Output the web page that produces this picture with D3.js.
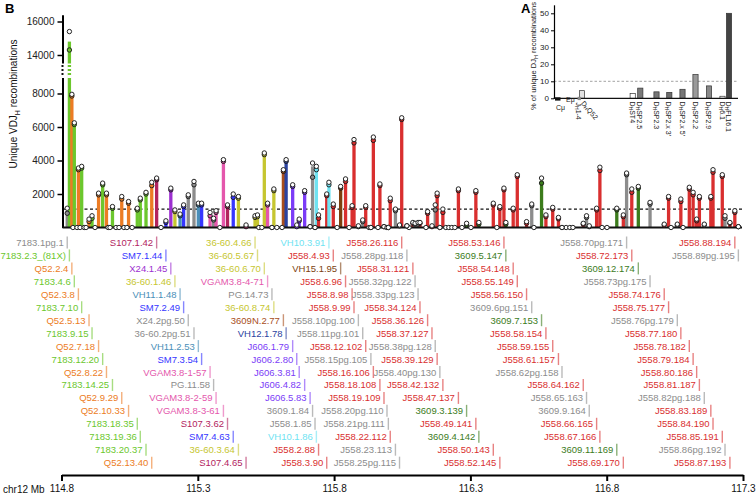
<!DOCTYPE html>
<html><head><meta charset="utf-8">
<script src="https://cdn.jsdelivr.net/npm/d3@7"></script>
<style>body{margin:0;background:#fff;} svg{display:block;font-family:"Liberation Sans",Arial,sans-serif;}</style>
</head><body><svg id="c" width="756" height="494"></svg>
<script>
// ---------- DATA ----------
const geneNames = [
'7183.1pg.1','7183.2.3_(81X)','Q52.2.4','7183.4.6','Q52.3.8','7183.7.10','Q52.5.13','7183.9.15','Q52.7.18','7183.12.20','Q52.8.22','7183.14.25','Q52.9.29','Q52.10.33','7183.18.35','7183.19.36','7183.20.37','Q52.13.40',
'S107.1.42','SM7.1.44','X24.1.45','36-60.1.46','VH11.1.48','SM7.2.49','X24.2pg.50','36-60.2pg.51','VH11.2.53','SM7.3.54','VGAM3.8-1-57','PG.11.58','VGAM3.8-2-59','VGAM3.8-3-61','S107.3.62','SM7.4.63','36-60.3.64','S107.4.65',
'36-60.4.66','36-60.5.67','36-60.6.70','VGAM3.8-4-71','PG.14.73','36-60.8.74','3609N.2.77','VH12.1.78','J606.1.79','J606.2.80','J606.3.81','J606.4.82','J606.5.83','3609.1.84','J558.1.85','VH10.1.86','J558.2.88','J558.3.90',
'VH10.3.91','J558.4.93','VH15.1.95','J558.6.96','J558.8.98','J558.9.99','J558.10pg.100','J558.11pg.101','J558.12.102','J558.15pg.105','J558.16.106','J558.18.108','J558.19.109','J558.20pg.110','J558.21pg.111','J558.22.112','J558.23.113','J558.25pg.115',
'J558.26.116','J558.28pg.118','J558.31.121','J558.32pg.122','J558.33pg.123','J558.34.124','J558.36.126','J558.37.127','J558.38pg.128','J558.39.129','J558.40pg.130','J558.42.132','J558.47.137','3609.3.139','J558.49.141','3609.4.142','J558.50.143','J558.52.145',
'J558.53.146','3609.5.147','J558.54.148','J558.55.149','J558.56.150','3609.6pg.151','3609.7.153','J558.58.154','J558.59.155','J558.61.157','J558.62pg.158','J558.64.162','J558.65.163','3609.9.164','J558.66.165','J558.67.166','3609.11.169','J558.69.170',
'J558.70pg.171','J558.72.173','3609.12.174','J558.73pg.175','J558.74.176','J558.75.177','J558.76pg.179','J558.77.180','J558.78.182','J558.79.184','J558.80.186','J558.81.187','J558.82pg.188','J558.83.189','J558.84.190','J558.85.191','J558.86pg.192','J558.87.193',
'J558.88.194','J558.89pg.195'];
const geneFamilies = [
'g','7183','Q52','7183','Q52','7183','Q52','7183','Q52','7183','Q52','7183','Q52','Q52','7183','7183','7183','Q52',
'S107','SM7','X24','3660','VH11','SM7','g','g','VH11','SM7','VGAM','g','VGAM','VGAM','S107','SM7','3660','S107',
'3660','3660','3660','VGAM','g','3660','3609N','VH12','J606','J606','J606','J606','J606','g','g','VH10','J558','J558',
'VH10','J558','VH15','J558','J558','J558','g','g','J558','g','J558','J558','J558','g','g','J558','g','g',
'J558','g','J558','g','g','J558','J558','J558','g','J558','g','J558','J558','3609','J558','3609','J558','J558',
'J558','3609','J558','J558','J558','g','3609','J558','J558','J558','g','J558','g','g','J558','J558','3609','J558',
'g','J558','3609','g','J558','J558','g','J558','J558','J558','J558','J558','g','J558','J558','J558','g','J558',
'J558','g'];
const genePositionsMb = [
114.821,114.829,114.838,114.847,114.862,114.874,114.901,114.912,114.936,114.951,114.965,114.987,115.021,115.046,115.078,115.089,115.110,115.131,
115.149,115.183,115.201,115.216,115.235,115.248,115.265,115.286,115.302,115.314,115.345,115.358,115.367,115.394,115.409,115.430,115.449,115.477,
115.510,115.519,115.544,115.556,115.572,115.579,115.614,115.624,115.648,115.663,115.672,115.692,115.712,115.721,115.730,115.735,115.743,115.773,
115.781,115.797,115.824,115.842,115.866,115.873,115.889,115.905,115.916,115.935,115.944,115.968,115.983,115.994,115.999,116.006,116.025,116.040,
116.048,116.067,116.089,116.097,116.108,116.115,116.143,116.159,116.171,116.178,116.188,116.199,116.256,116.286,116.320,116.331,116.384,116.408,
116.423,116.430,116.457,116.472,116.506,116.525,116.561,116.577,116.602,116.623,116.636,116.714,116.726,116.736,116.763,116.775,116.837,116.861,
116.873,116.892,116.916,116.959,117.011,117.027,117.059,117.072,117.103,117.117,117.130,117.140,117.158,117.182,117.190,117.224,117.234,117.252,
117.270,117.283];
const geneMeans = [
1000,14800,7900,6200,3500,3600,400,650,2000,2600,2000,1200,1800,1500,1100,1700,2050,2600,
2900,350,2300,1000,750,1300,1900,2650,1400,1400,800,500,950,4000,1300,1900,1800,100,
650,700,4400,1400,0,2250,3400,4000,2500,100,450,2150,50,3650,0,3550,650,1950,
2650,1350,2400,2850,1250,5150,100,400,1250,0,5300,2550,50,0,0,1700,1050,150,
6500,100,300,250,250,300,900,100,1200,2000,0,1000,2250,200,2150,250,1400,1200,
2300,250,1100,3100,300,1350,2800,700,1150,560,0,200,650,100,1100,3500,1100,700,
3200,2200,2400,1450,200,1800,200,1650,2350,2050,450,1800,200,1800,3400,3100,650,300,
950,50];
const geneRep1 = [ // white circles
1150,15400,7950,6250,3550,3650,500,700,2050,2650,2050,1250,1850,1550,1150,1750,2100,2700,
2950,400,2350,1050,800,1350,1950,2750,1450,1450,900,550,1000,4050,1350,2000,1850,150,
700,750,4450,1450,0,2300,3450,4050,2550,150,500,2200,50,3850,0,3650,750,2000,
2700,1400,2450,2900,1300,5250,100,450,1300,0,5400,2600,50,0,0,1750,1100,150,
6550,100,300,250,300,300,950,100,1350,2050,0,1100,2300,250,2200,300,1450,1250,
2350,300,1150,3150,350,1400,2950,750,1200,600,0,250,700,100,1150,3600,1150,750,
3250,2300,2450,1500,200,1850,200,1700,2400,2100,500,1850,200,1850,3450,3150,700,300,
1000,50];
const geneRep2 = [ // filled circles
850,14300,7850,6150,3450,3550,350,550,1950,2550,1950,1150,1700,1450,1050,1650,2000,2500,
2850,300,2250,950,700,1250,1850,2550,1350,1350,700,450,900,3950,1250,1800,1750,50,
600,650,4350,1350,0,2200,3350,3950,2450,50,400,2100,50,3000,0,3450,550,1900,
2550,1250,2350,2750,1200,5050,50,350,1200,0,5200,2500,50,0,0,1600,1000,100,
6450,100,250,200,200,250,850,50,1050,1900,0,900,2200,150,2100,200,1350,1150,
2250,200,1050,3050,250,1300,2650,650,1100,520,0,200,600,50,1050,3400,1050,650,
3150,2100,2350,1400,150,1750,150,1550,2300,1950,400,1750,150,1750,3300,3050,550,250,
900,50];
const unlabeledZeroMb = [114.842,114.857,114.868,114.883,114.890,114.923,114.971,114.978,115.000,115.011,115.029,115.040,115.059,115.165,115.381,
115.524,115.535,115.590,115.609,115.811,115.855,115.928,115.961,116.075,116.137,116.210,116.221,116.232,116.243,116.269,116.302,116.397,
116.533,116.651,116.665,116.676,116.783,116.801,117.036,117.080];
const yTicks = [2000,4000,6000,8000,14000,16000];
const xTicks = [114.8,115.3,115.8,116.3,116.8,117.3];
const thresholdValue = 1100;

// inset (A)
const insetSuffix = ['Q52','ST4','SP2.5','SP2.3',"SP2.x 3'","SP2.x 5'",'SP2.2','SP2.9','6.1','FL16.1'];
const insetValues = [4.5,2.8,6.0,3.8,3.5,5.3,14.0,7.3,1.2,50.0];
const insetPos = [28,78.7,86.3,102.5,115.3,128.5,141.5,155,168.5,175];
const insetTicks = [0,10,20,30,40,50];
const insetThreshold = 10;

// ---------- STYLE ----------
const famColor = {g:'#8c8c8c','7183':'#6cc72d',Q52:'#ec7c24',S107:'#b2245e',SM7:'#3636ff',X24:'#9c2fd0','3660':'#c6c630',
  VH11:'#4a8fb8',VGAM:'#e457ac','3609N':'#a84e1c',VH12:'#2b43a0',J606:'#7b3cf7','3609':'#3c7c1c',J558:'#d92f2f',VH10:'#6fe3f2',VH15:'#7d3f0f'};
const insetFill = ['#e2e2e2','#ffffff','#7a7a7a','#777','#6e6e6e','#777','#9a9a9a','#888','#ffffff','#444'];

const svg = d3.select('#c');
const x = d3.scaleLinear().domain([114.8,117.3]).range([61.5,743]);
const y = d3.scaleLinear().domain([0,9000,13000,16400]).range([227.5,76.75,71.75,14.8]);
const n = geneNames.length;
const idx = d3.range(n);

// panel letters
svg.append('text').attr('x',5).attr('y',13).attr('font-size',13).attr('font-weight','bold').text('B');
svg.append('text').attr('x',521).attr('y',13).attr('font-size',13).attr('font-weight','bold').text('A');

// threshold dashed
svg.append('line').attr('x1',62.5).attr('x2',742).attr('y1',y(thresholdValue)).attr('y2',y(thresholdValue))
  .attr('stroke','#111').attr('stroke-width',1.3).attr('stroke-dasharray','3,2.5');

// stems
svg.append('g').selectAll('rect').data(idx.filter(i=>geneMeans[i]>0)).join('rect')
  .attr('x',i=>x(genePositionsMb[i])-1.65).attr('width',3.3)
  .attr('y',i=>y(geneMeans[i])).attr('height',i=>y(0)-y(geneMeans[i]))
  .attr('fill',i=>famColor[geneFamilies[i]]);

// break on tall bars
const brTop = 63.5, brBot = 78;
idx.filter(i=>geneMeans[i]>9000).forEach(i=>{
  const cx = x(genePositionsMb[i]);
  svg.append('rect').attr('x',cx-2.2).attr('width',4.4).attr('y',brTop).attr('height',brBot-brTop).attr('fill','#fff');
  [65,69,73].forEach(yy=>svg.append('rect').attr('x',cx-1.65).attr('width',3.3).attr('y',yy).attr('height',2).attr('fill',famColor[geneFamilies[i]]));
});

// y axis
const ya = svg.append('g').attr('transform','translate(62.5,0)')
  .call(d3.axisLeft(y).tickValues(yTicks).tickSize(5).tickSizeOuter(0).tickPadding(3).tickFormat(d3.format('d')));
ya.select('.domain').attr('stroke-width',2);
ya.selectAll('.tick line').attr('stroke-width',1.5);
ya.selectAll('text').attr('font-size',10).attr('fill','#222').style('font-family','"Liberation Sans",Arial,sans-serif');
svg.append('rect').attr('x',60).attr('width',5).attr('y',brTop).attr('height',brBot-brTop).attr('fill','#fff');
[65,69,73].forEach(yy=>svg.append('rect').attr('x',61.5).attr('width',2).attr('y',yy).attr('height',2).attr('fill','#111'));

// y title
const yt = svg.append('text').attr('transform','translate(17,104) rotate(-90)').attr('text-anchor','middle').attr('font-size',10).attr('fill','#111');
yt.append('tspan').text('Unique VDJ');
yt.append('tspan').attr('font-size',7).attr('dy',2.5).text('H');
yt.append('tspan').attr('dy',-2.5).text(' recombinations');

// baseline
svg.append('line').attr('x1',62.5).attr('x2',742).attr('y1',y(0)).attr('y2',y(0)).attr('stroke','#111').attr('stroke-width',2);

// circles
const cg = svg.append('g').attr('stroke','#1a1a1a').attr('stroke-width',0.95);
cg.selectAll('circle.z').data(unlabeledZeroMb).join('circle').attr('class','z')
  .attr('cx',d=>x(d)).attr('cy',y(0)).attr('r',2.2).attr('fill','#fff');
cg.selectAll('circle.b').data(idx).join('circle').attr('class','b')
  .attr('cx',i=>x(genePositionsMb[i])).attr('cy',i=>y(geneRep2[i])).attr('r',2.2)
  .attr('fill',i=>geneRep2[i]>0?famColor[geneFamilies[i]]:'#fff');
cg.selectAll('circle.a').data(idx).join('circle').attr('class','a')
  .attr('cx',i=>x(genePositionsMb[i])).attr('cy',i=>y(geneRep1[i])).attr('r',2.2).attr('fill','#fff');

// gene labels
const lg = svg.append('g');
idx.forEach(i=>{
  const row = i % 18;
  const ly = 242.5 + row*12.95;
  const gx = x(genePositionsMb[i]);
  const c = famColor[geneFamilies[i]];
  lg.append('text').attr('x',gx-3.5).attr('y',ly).attr('text-anchor','end').attr('dominant-baseline','central')
    .attr('font-size',9.5).attr('fill',c).text(geneNames[i]);
  lg.append('line').attr('x1',gx).attr('x2',gx).attr('y1',ly-6).attr('y2',ly+6).attr('stroke',c).attr('stroke-opacity',0.6).attr('stroke-width',1.4);
});

// bottom axis
const xa = svg.append('g').attr('transform','translate(0,475)')
  .call(d3.axisBottom(x).tickValues(xTicks).tickSize(6).tickSizeOuter(0).tickPadding(4).tickFormat(d3.format('.1f')));
xa.select('.domain').attr('stroke-width',2);
xa.selectAll('.tick line').attr('stroke-width',2);
xa.selectAll('text').attr('font-size',10).attr('fill','#111').style('font-family','"Liberation Sans",Arial,sans-serif');
svg.append('text').attr('x',3).attr('y',493).attr('font-size',10).attr('fill','#111').text('chr12 Mb');

// ---------- INSET ----------
const ix = d3.scaleLinear().domain([0,184]).range([554,738]);
const iy = d3.scaleLinear().domain([0,55]).range([98.3,4.8]);
svg.append('line').attr('x1',554).attr('x2',738).attr('y1',iy(insetThreshold)).attr('y2',iy(insetThreshold))
  .attr('stroke','#999').attr('stroke-width',0.9).attr('stroke-dasharray','2.5,2');
svg.append('g').selectAll('rect').data(d3.range(insetValues.length)).join('rect')
  .attr('x',i=>ix(insetPos[i])-2.6).attr('width',5.2)
  .attr('y',i=>iy(insetValues[i])).attr('height',i=>iy(0)-iy(insetValues[i]))
  .attr('fill',i=>insetFill[i]).attr('stroke','#333').attr('stroke-width',0.7);
const iya = svg.append('g').attr('transform','translate(554,0)')
  .call(d3.axisLeft(iy).tickValues(insetTicks).tickSize(3).tickSizeOuter(0).tickPadding(2));
iya.select('.domain').attr('stroke-width',1.2);
iya.selectAll('text').attr('font-size',8).attr('fill','#222').style('font-family','"Liberation Sans",Arial,sans-serif');
svg.append('line').attr('x1',553.5).attr('x2',738).attr('y1',iy(0)).attr('y2',iy(0)).attr('stroke','#111').attr('stroke-width',1.2);
const it = svg.append('text').attr('transform','translate(536,56) rotate(-90)').attr('text-anchor','middle').attr('font-size',7.5).attr('fill','#222');
it.append('tspan').text('% of unique DJ');
it.append('tspan').attr('font-size',5.5).attr('dy',2).text('H');
it.append('tspan').attr('dy',-2).text(' recombinations');

function dLabel(g, suffix){
  g.append('tspan').text('D');
  g.append('tspan').attr('font-size',5).attr('dy',1.8).text('H');
  g.append('tspan').attr('dy',-1.8).text(suffix);
}
insetSuffix.forEach((s,i)=>{
  const px = ix(insetPos[i]);
  const t = svg.append('text').attr('font-size',7).attr('fill','#222').attr('dominant-baseline','central')
    .attr('transform', i===0 ? `translate(${px+1},101.5) rotate(50)` : `translate(${px},101.5) rotate(90)`);
  dLabel(t, s);
});
// Cmu / Emu / JH markers
svg.append('rect').attr('x',555).attr('y',97.3).attr('width',5.5).attr('height',3.3).attr('fill','#111');
svg.append('text').attr('x',556).attr('y',109.5).attr('font-size',7).attr('fill','#222').text('Cμ');
svg.append('text').attr('x',566).attr('y',102).attr('font-size',7).attr('fill','#222').text('Eμ');
svg.append('rect').attr('x',577.6).attr('y',96.8).attr('width',3.3).attr('height',3.3).attr('fill','#888');
const jh = svg.append('text').attr('font-size',7).attr('fill','#222').attr('dominant-baseline','central').attr('transform','translate(579.3,102.5) rotate(90)');
jh.append('tspan').text('J');
jh.append('tspan').attr('font-size',5).attr('dy',1.8).text('H');
jh.append('tspan').attr('dy',-1.8).text('1-4');
</script></body></html>
